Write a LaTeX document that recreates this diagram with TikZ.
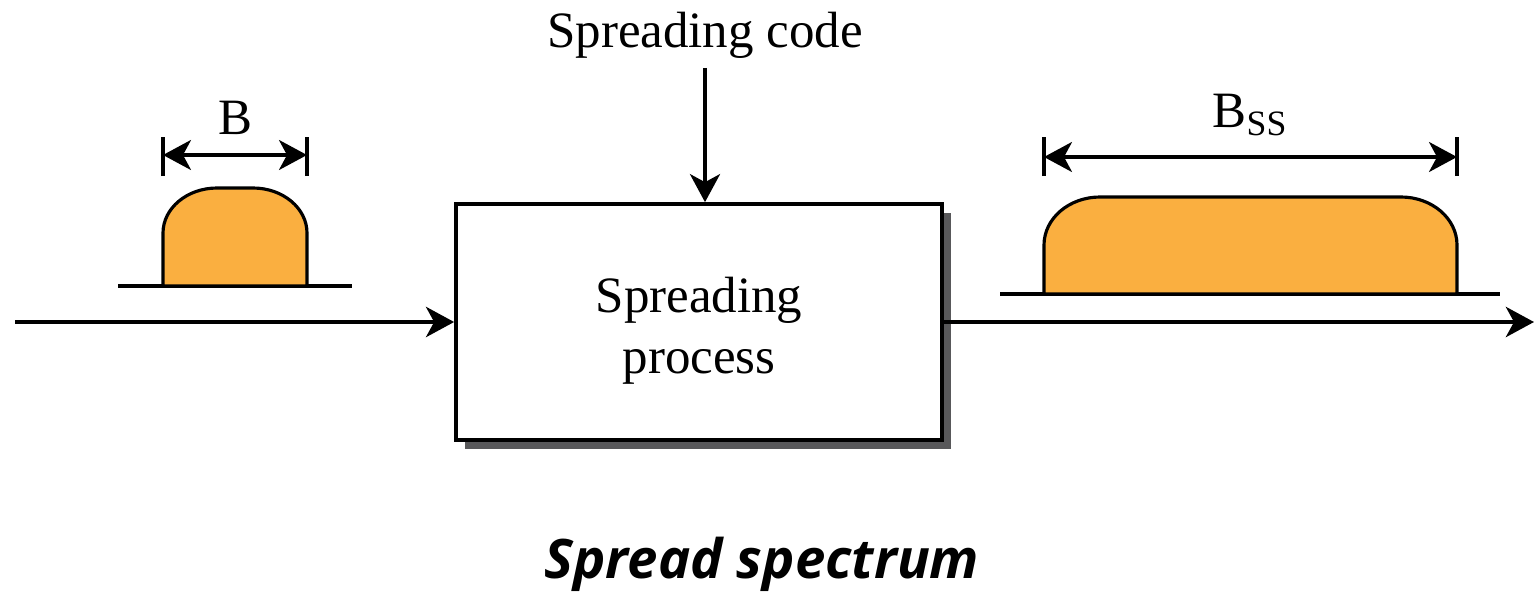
\documentclass[tikz,border=0pt]{standalone}
\usepackage{fontspec}
\setmainfont{Liberation Serif}
\newfontfamily\titlefont{Open Sans}
\usetikzlibrary{arrows.meta,shadows}
\definecolor{bumporange}{HTML}{FAAF40}
\definecolor{shadowgray}{HTML}{58585A}
\begin{document}
\begin{tikzpicture}[>={Stealth[length=0.56cm,width=0.6cm,inset=0.16cm]},
		txt/.style = {font=\fontsize{29}{34.5}\selectfont, inner sep=0pt},
		signal/.style = {line width=2.8pt},
		bump/.style = {fill=bumporange, draw=black, line width=1.8pt},
		dim/.style = {line width=1.8pt},
		procbox/.style = {draw, line width=2.1pt, fill=white, txt, align=center,
			minimum width=9.72cm, minimum height=4.72cm,
			drop shadow={shadow xshift=0.17cm, shadow yshift=-0.17cm, fill=shadowgray, opacity=1}}]
		\useasboundingbox (0,0) rectangle (30.72,11.94);
		\node[procbox] (proc) at (13.98,5.50) {\rule{0pt}{30pt}Spreading\\process};
		\coordinate (in) at (0.30,5.50);
		\coordinate (out) at (30.68,5.50);
		\draw[->,signal] (in)--(proc.west);
		\draw[->,signal] (proc.east)--(out);
		\node[txt, anchor=base] (code) at (14.10,10.98) {Spreading code};
		\coordinate (codetop) at (14.10,10.58);
		\draw[->,signal, line width=2.2pt] (codetop)--(codetop |- proc.north);
		% narrow band
		\draw[dim] (2.36,6.22)--(7.04,6.22);
		\filldraw[bump] (3.26,6.22)--(3.26,7.28) arc[start angle=180, end angle=90, x radius=1.08cm, y radius=0.9cm]%
		--(5.06,8.18) arc[start angle=90, end angle=0, x radius=1.08cm, y radius=0.9cm]--(6.14,6.22)--cycle;
		\foreach \x in {3.26,6.14}{
			\draw[dim] (\x,8.42)--(\x,9.20);
		}
		\coordinate (bl) at (3.26,8.84);
		\coordinate (br) at (6.14,8.84);
		\draw[<->,dim] (bl)--(br);
		\node[txt, anchor=base] (b) at (4.70,9.26) {B};
		% spread band
		\draw[dim] (20.0,6.06)--(30.0,6.06);
		\filldraw[bump] (20.88,6.06)--(20.88,7.04) arc[start angle=180, end angle=90, x radius=1.12cm, y radius=0.96cm]%
		--(28.02,8.0) arc[start angle=90, end angle=0, x radius=1.12cm, y radius=0.96cm]--(29.14,6.06)--cycle;
		\foreach \x in {20.88,29.14}{
			\draw[dim] (\x,8.42)--(\x,9.20);
		}
		\coordinate (sl) at (20.88,8.80);
		\coordinate (sr) at (29.14,8.80);
		\draw[<->,dim] (sl)--(sr);
		\node[txt, anchor=base] (bss) at (25.0,9.40) {B\textsubscript{SS}};
		\node[font=\titlefont\bfseries\itshape\fontsize{31}{33}\selectfont, inner sep=0pt] (title) at (15.24,0.66) {Spread spectrum};
\end{tikzpicture}
\end{document}
